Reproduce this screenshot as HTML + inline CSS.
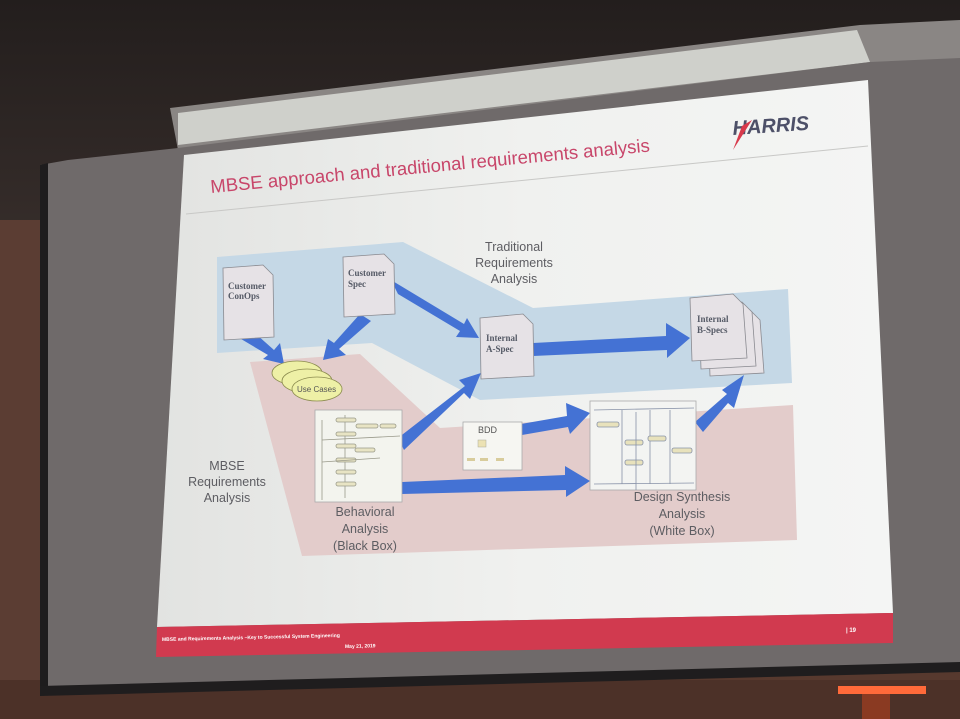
<!DOCTYPE html>
<html><head><meta charset="utf-8"><style>
html,body{margin:0;padding:0;background:#2a2321;}
svg{display:block}
text{font-family:"Liberation Sans",Arial,sans-serif}
.s{font-family:"Liberation Serif",serif;font-weight:bold;font-size:9px;fill:#555a66}
.l{font-size:12.5px;fill:#5d5d62;text-anchor:middle}
</style></head><body>
<svg width="960" height="719" viewBox="0 0 960 719" xmlns="http://www.w3.org/2000/svg">
<defs>
<linearGradient id="sl" x1="0" x2="1" y1="0" y2="0">
<stop offset="0" stop-color="#e2e3e1"/><stop offset="0.5" stop-color="#f0f1ef"/><stop offset="1" stop-color="#f4f5f4"/></linearGradient>
<linearGradient id="wall" x1="0" x2="0" y1="0" y2="1">
<stop offset="0" stop-color="#231e1d"/><stop offset="0.4" stop-color="#3a302d"/><stop offset="1" stop-color="#5a3a2e"/></linearGradient>
</defs>
<rect width="960" height="719" fill="url(#wall)"/>
<rect x="0" y="220" width="60" height="499" fill="#5b3d33"/>
<rect x="0" y="680" width="960" height="39" fill="#4c3128"/>
<rect x="838" y="686" width="88" height="8" fill="#ff6a3a"/>
<rect x="862" y="694" width="28" height="25" fill="#8a3a22"/>
<!-- screen housing -->
<polygon points="170,108 860,25 960,20 960,78 178,150" fill="#8a8684"/>
<polygon points="178,113 857,30 870,62 178,145" fill="#cfd0cb"/>
<!-- screen frame -->
<polygon points="68,160 178,148 870,62 960,58 960,668 40,692 40,165" fill="#6f6a6a"/>
<polygon points="40,165 48,163 48,690 40,692" fill="#1e1c1d"/>
<polygon points="40,686 960,662 960,672 40,696" fill="#1f1d1e"/>
<!-- slide -->
<polygon points="184,155 868,80 893,613 157,627" fill="url(#sl)"/>
<polygon points="157,627 893,613 893,643 156,657" fill="#d13a4f"/>
<text x="162" y="641" font-size="5px" fill="#fff" font-weight="bold" transform="rotate(-1.3 162 641)">MBSE and Requirements Analysis –Key to Successful System Engineering</text>
<text x="345" y="648" font-size="5px" fill="#fff" font-weight="bold" transform="rotate(-1.3 345 648)">May 21, 2019</text>
<text x="846" y="632" font-size="6px" fill="#fff" font-weight="bold">| 19</text>
<!-- title -->
<text x="211" y="193" font-size="18.5px" fill="#c8466a" transform="rotate(-5.4 211 193)">MBSE approach and traditional requirements analysis</text>
<line x1="186" y1="214" x2="868" y2="146" stroke="#c8c8c6" stroke-width="1"/>
<text x="733" y="135" font-size="20px" font-weight="bold" font-style="italic" fill="#4d5068" transform="rotate(-4 733 135)">HARRIS</text>
<polygon points="742,126 752,120 733,150" fill="#d83a4c"/>
<!-- regions -->
<polygon points="217,257 403,242 533,308 788,289 792,383 480,400 372,343 217,353" fill="#c5d8e6"/>
<polygon points="250,362 360,354 440,428 793,405 797,540 302,556" fill="#e3cccb"/>
<!-- labels -->
<text class="l" x="514" y="251">Traditional</text>
<text class="l" x="514" y="267">Requirements</text>
<text class="l" x="514" y="283">Analysis</text>
<text class="l" x="227" y="470">MBSE</text>
<text class="l" x="227" y="486">Requirements</text>
<text class="l" x="227" y="502">Analysis</text>
<text class="l" x="365" y="516">Behavioral</text>
<text class="l" x="365" y="533">Analysis</text>
<text class="l" x="365" y="550">(Black Box)</text>
<text class="l" x="682" y="501">Design Synthesis</text>
<text class="l" x="682" y="518">Analysis</text>
<text class="l" x="682" y="535">(White Box)</text>
<!-- arrows -->
<g fill="#4472d4">
<polygon points="236,336 247,326 274,350 280,343 284,364 263,359 268,355"/>
<polygon points="360,314 371,321 339,349 346,355 323,360 328,339 334,343"/>
<polygon points="391,280 398,294 460,331 456,337 479,338 467,318 464,324"/>
<polygon points="398,438 404,450 464,393 470,399 481,373 459,380 465,386"/>
<polygon points="533,343 533,356 667,350 667,358 690,338 666,323 666,336"/>
<polygon points="521,424 522,435 568,427 570,434 590,413 566,403 567,416"/>
<polygon points="402,482 402,494 566,490 566,497 590,481 565,466 565,475"/>
<polygon points="695,422 703,432 728,403 734,408 744,375 722,390 727,394"/>
</g>
<!-- documents -->
<g stroke="#8a8a90" stroke-width="0.8" fill="#e6e2e6">
<polygon points="223,268 263,265 273,275 274,337 224,340"/>
<polygon points="343,257 384,254 394,264 395,314 344,317"/>
<polygon points="480,318 523,314 533,324 534,376 481,379"/>
<polygon points="708,313 750,310 760,320 764,373 710,376"/>
<polygon points="699,306 742,302 752,312 756,366 701,369"/>
<polygon points="690,298 733,294 743,304 747,358 692,361"/>
</g>
<text class="s" x="228" y="289">Customer</text><text class="s" x="228" y="299">ConOps</text>
<text class="s" x="348" y="276">Customer</text><text class="s" x="348" y="287">Spec</text>
<text class="s" x="486" y="341">Internal</text><text class="s" x="486" y="352">A-Spec</text>
<text class="s" x="697" y="322">Internal</text><text class="s" x="697" y="333">B-Specs</text>
<!-- use cases -->
<g fill="#eef0a6" stroke="#8c8c50" stroke-width="0.8">
<ellipse cx="297" cy="373" rx="25" ry="12"/>
<ellipse cx="307" cy="381" rx="25" ry="12"/>
<ellipse cx="317" cy="389" rx="25" ry="12"/>
</g>
<text x="297" y="392" font-size="8px" fill="#555">Use Cases</text>
<!-- behavioral diagram -->
<rect x="315" y="410" width="87" height="92" fill="#f3f4ee" stroke="#aaa" stroke-width="0.8"/>
<g stroke="#99998a" stroke-width="0.8" fill="#e8e4c4">
<line x1="345" y1="415" x2="345" y2="498"/>
<rect x="336" y="418" width="20" height="4" rx="2"/>
<rect x="356" y="424" width="22" height="4" rx="2"/>
<rect x="380" y="424" width="16" height="4" rx="2"/>
<rect x="336" y="432" width="20" height="4" rx="2"/>
<rect x="336" y="444" width="20" height="4" rx="2"/>
<rect x="355" y="448" width="20" height="4" rx="2"/>
<rect x="336" y="458" width="20" height="4" rx="2"/>
<rect x="336" y="470" width="20" height="4" rx="2"/>
<rect x="336" y="482" width="20" height="4" rx="2"/>
<line x1="322" y1="440" x2="400" y2="436"/>
<line x1="322" y1="462" x2="380" y2="458"/>
<line x1="322" y1="420" x2="322" y2="500"/>
</g>
<!-- BDD -->
<rect x="463" y="422" width="59" height="48" fill="#f6f6f2" stroke="#aaa" stroke-width="0.8"/>
<text x="478" y="433" font-size="9px" fill="#555">BDD</text>
<rect x="478" y="440" width="8" height="7" fill="#ece2b4" stroke="#aa9" stroke-width="0.5"/>
<rect x="467" y="458" width="8" height="3" fill="#d8cc9c"/><rect x="480" y="458" width="8" height="3" fill="#d8cc9c"/><rect x="496" y="458" width="8" height="3" fill="#d8cc9c"/>
<!-- design diagram -->
<rect x="590" y="401" width="106" height="89" fill="#f3f4f2" stroke="#aaa" stroke-width="0.8"/>
<g stroke="#8892a8" stroke-width="0.8" fill="#e8e2bc">
<line x1="594" y1="410" x2="694" y2="408"/>
<line x1="622" y1="410" x2="622" y2="484"/><line x1="650" y1="410" x2="650" y2="484"/><line x1="670" y1="410" x2="670" y2="484"/>
<line x1="594" y1="484" x2="694" y2="483"/>
<rect x="597" y="422" width="22" height="5" rx="2"/>
<rect x="625" y="440" width="18" height="5" rx="2"/>
<rect x="648" y="436" width="18" height="5" rx="2"/>
<rect x="672" y="448" width="20" height="5" rx="2"/>
<rect x="625" y="460" width="18" height="5" rx="2"/>
<line x1="636" y1="412" x2="636" y2="490"/>
</g>
</svg>
</body></html>
